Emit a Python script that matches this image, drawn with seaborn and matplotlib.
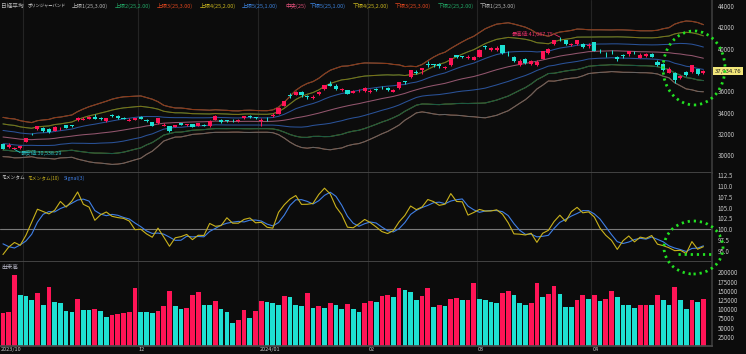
import numpy as np
import pandas as pd
import matplotlib
matplotlib.use("Agg")
import matplotlib.pyplot as plt
import seaborn as sns
from matplotlib.patches import Ellipse
from matplotlib.lines import Line2D

# 表示期間より前の終値（BB25 / モメンタム10 の計算用）
prior_close = [32571.03, 32402.41, 32678.62, 32315.05, 32371.90, 31872.52, 31857.62, 31759.88,
               31237.94, 30526.88, 31075.36, 30994.67, 31746.53, 31936.51, 32494.66, 32315.99,
               31659.03, 32040.29, 32042.25, 31430.62, 31259.36, 30999.55, 31062.35, 31269.92]

# 日足 2023/10/26 - 2024/04/26
open_ = [31010, 30730, 30600, 30650, 31250, 31990, 32450, 32570, 32450, 32300,
         32500, 32800, 32800, 33250, 33330, 33400, 33600, 33480, 33200, 33800,
         33700, 33480, 33220, 33300, 33620, 33330, 33080, 32990, 32730, 32700,
         32680, 33000, 32800, 32900, 32750, 32850, 32700, 33300, 33300, 33250,
         33300, 33200, 33450, 33700, 33550, 33193, 33400, 33700, 33900, 34650,
         35600, 35650, 35900, 35550, 35350, 35700, 36200, 36700, 36500, 36150,
         36100, 35850, 36000, 36000, 35880, 36250, 36420, 36300, 35960, 36300,
         36930, 37300, 37780, 37990, 38600, 38520, 38600, 38150, 38460, 39380,
         39330, 39130, 38930, 39240, 40240, 39880, 39880, 40300, 39710, 39240,
         38480, 39050, 38550, 38500, 39050, 39560, 40430, 40900, 40800, 40300,
         40400, 40430, 40250, 40600, 39880, 39500, 39790, 39240, 39370, 39500,
         39620, 39150, 39300, 39500, 38770, 38600, 37750, 37740, 37210, 37830,
         37830, 38040, 37730]
high = [31040, 31120, 30800, 30900, 31650, 32050, 32750, 32600, 32500, 32700,
        32650, 32850, 32850, 33560, 33600, 33650, 33850, 33550, 33500, 33850,
        33750, 33550, 33500, 33520, 33650, 33400, 33100, 33480, 32990, 32750,
        32850, 33050, 32950, 32950, 33050, 32900, 33250, 33750, 33350, 33300,
        33350, 33350, 33700, 33750, 33600, 33450, 33550, 33990, 34500, 35100,
        35840, 36000, 36000, 35650, 35600, 36000, 36600, 36980, 36650, 36300,
        36150, 36100, 36200, 36350, 36200, 36300, 36450, 36400, 36250, 36900,
        37000, 38000, 37950, 38200, 38850, 38600, 38650, 38400, 39150, 39400,
        39350, 39400, 39300, 39950, 40300, 40150, 40250, 40350, 39800, 39300,
        39000, 39100, 38900, 38900, 39800, 40050, 40850, 41087.75, 40800, 40500,
        40800, 40550, 40500, 40650, 39950, 39700, 39850, 39300, 39500, 39800,
        39800, 39550, 39600, 39600, 38900, 38650, 38250, 37850, 37500, 37900,
        38500, 38100, 38000]
low = [30580, 30680, 30538.29, 30580, 31200, 31850, 32400, 32200, 32100, 32250,
       32400, 32550, 32650, 33200, 33300, 33350, 33350, 33300, 33150, 33600,
       33400, 33350, 33200, 33250, 33400, 33100, 32700, 32950, 32700, 32200,
       32600, 32800, 32750, 32600, 32700, 32700, 32650, 33250, 33050, 33100,
       33150, 33150, 33400, 33450, 33400, 32693, 33200, 33600, 33850, 34600,
       35400, 35600, 35500, 35300, 35300, 35650, 36150, 36450, 36150, 36050,
       35700, 35800, 35950, 35950, 35800, 36050, 36200, 36050, 35900, 36200,
       36700, 37250, 37600, 37650, 38300, 38300, 38200, 38100, 38400, 39100,
       39100, 39000, 38900, 39200, 39950, 39800, 39800, 39500, 39300, 38700,
       38400, 38600, 38500, 38400, 39000, 39500, 40300, 40700, 40300, 40200,
       40300, 40100, 40100, 39750, 39600, 39250, 39500, 38800, 39100, 39300,
       39500, 39100, 39250, 39200, 38400, 37900, 37700, 36733, 37100, 37400,
       37750, 37500, 37600]
close = [30601.78, 30991.69, 30696.96, 30858.85, 31601.65, 31949.89, 32708.48, 32271.82, 32166.48, 32646.46,
         32568.11, 32585.11, 32695.93, 33519.70, 33424.41, 33585.20, 33388.03, 33354.14, 33451.83, 33625.53,
         33447.67, 33408.39, 33321.22, 33486.89, 33431.51, 33231.27, 32775.82, 33445.90, 32858.31, 32307.86,
         32791.80, 32843.04, 32926.35, 32686.25, 32970.55, 32758.98, 33219.39, 33675.94, 33140.47, 33169.05,
         33254.03, 33305.85, 33681.24, 33539.62, 33464.17, 33288.29, 33377.42, 33763.18, 34441.72, 35049.86,
         35577.11, 35901.79, 35619.18, 35477.75, 35466.17, 35963.27, 36546.95, 36517.57, 36226.48, 36236.47,
         35751.07, 36026.94, 36065.86, 36286.71, 36011.46, 36158.02, 36354.16, 36160.66, 36119.92, 36863.28,
         36897.42, 37963.97, 37703.32, 38157.94, 38487.24, 38470.38, 38363.61, 38262.16, 39098.68, 39233.71,
         39239.52, 39208.03, 39166.19, 39910.82, 40109.23, 40097.63, 40090.78, 39598.71, 39688.94, 38820.49,
         38797.51, 38695.97, 38807.38, 38707.64, 39740.44, 40003.60, 40815.66, 40888.43, 40414.12, 40398.03,
         40762.73, 40168.07, 40369.44, 39803.09, 39838.91, 39451.85, 39773.13, 38992.08, 39347.04, 39773.14,
         39581.81, 39442.63, 39523.55, 39232.80, 38471.20, 37961.80, 38079.70, 37068.35, 37438.61, 37552.16,
         38460.08, 37628.48, 37934.76]
volume = [90600, 93300, 193000, 138600, 135000, 126000, 145000, 111000, 161000, 119600,
          116000, 94200, 92400, 127700, 97800, 96900, 99700, 95100, 78800, 84300,
          86100, 88800, 93300, 157600, 92400, 91500, 89700, 96000, 108700, 149500,
          109600, 101500, 104200, 138600, 145900, 111400, 110500, 122300, 99700, 93300,
          62500, 71600, 97800, 77000, 94200, 122300, 120500, 116000, 110500, 135000,
          134100, 110500, 107800, 145000, 104200, 109600, 104200, 116000, 112300, 99700,
          114200, 99700, 92400, 116000, 123200, 120500, 135000, 139500, 132300, 156700,
          152200, 146800, 125000, 135000, 156700, 106000, 112300, 108700, 127700, 130500,
          124100, 125000, 172100, 128700, 125000, 120500, 117800, 143100, 148600, 137700,
          117800, 110500, 116000, 172100, 134100, 140400, 163100, 141300, 106500, 105500,
          125900, 139500, 126800, 138600, 121400, 127700, 150400, 134100, 112300, 110500,
          102400, 111000, 111800, 111200, 137700, 125900, 110500, 160400, 125000, 101500,
          125900, 119600, 128700]

month_lines = [3.5, 23.5, 44.5, 63.5, 82.5, 102.5]
month_labels = ['12', '2024/01', '02', '03', '04']
price_ticks = [30000, 32000, 34000, 36000, 38000, 40000, 42000, 44000]
mom_ticks = [95.0, 97.5, 100.0, 102.5, 105.0, 107.5, 110.0, 112.5]
vol_ticks = [25000, 50000, 75000, 100000, 125000, 150000, 175000, 200000]

# インジケーター
n0 = len(prior_close)
cs = pd.Series(prior_close + close)
mid = cs.rolling(25).mean().values[n0:]
sd = cs.rolling(25).std(ddof=0).values[n0:]
mom = (cs / cs.shift(10) * 100)
sig = mom.rolling(3).mean().values[n0:]
mom = mom.values[n0:]

o = np.array(open_); c = np.array(close); h = np.array(high); l = np.array(low)
v = np.array(volume)
x = np.arange(len(c))

BG = '#0c0c0c'
RED = '#ff1456'
CYAN = '#1ee0d2'
TXT = '#c8c8c8'
GRAY_L = '#656565'; GREEN_L = '#1a5a44'; ORANGE_L = '#8e3814'
YELLOW_L = '#7d7216'; BLUE_L = '#2a5298'; PINK_L = '#93566e'

sns.set_theme(style='dark')
plt.rcParams['font.family'] = ['Noto Sans CJK JP', 'DejaVu Sans']
plt.rcParams['axes.unicode_minus'] = False

W, H = 746, 354
fig = plt.figure(figsize=(W / 100, H / 100), dpi=100, facecolor=BG)


def panel(top, bottom):
    return [0, 1 - bottom / H, 712 / W, (bottom - top) / H]


ax1 = fig.add_axes(panel(0, 173))
ax2 = fig.add_axes(panel(173, 262), sharex=ax1)
ax3 = fig.add_axes(panel(262, 346), sharex=ax1)

for ax in (ax1, ax2, ax3):
    ax.set_facecolor(BG)
    ax.grid(False)
    for s in ax.spines.values():
        s.set_visible(False)
    ax.spines['right'].set_visible(True)
    ax.spines['right'].set_color('#3a3a3a')
    ax.spines['bottom'].set_visible(True)
    ax.spines['bottom'].set_color('#4a4a4a')
    ax.yaxis.tick_right()
    ax.tick_params(axis='y', colors=TXT, labelsize=4.4, length=0, pad=4)
    ax.tick_params(axis='x', length=0, labelbottom=False)
    for m in month_lines:
        ax.axvline(m, color='#242424', lw=0.8, zorder=0)
    ax.set_xlim(-0.52, 123.5)

# ローソク足 + ボリンジャーバンド
bands = [(3, GRAY_L), (2, GREEN_L), (3, ORANGE_L), (2, YELLOW_L), (1, BLUE_L), (0, PINK_L),
         (-1, BLUE_L), (-2, YELLOW_L), (-3, ORANGE_L), (-2, GREEN_L), (-3, GRAY_L)]
for k, col in bands:
    sns.lineplot(x=x, y=mid + k * sd, ax=ax1, color=col, lw=0.75, zorder=2)

ccol = np.where(c >= o, RED, CYAN)
ax1.vlines(x, l, h, colors=ccol, lw=0.75, zorder=3)
ax1.bar(x, np.maximum(np.abs(c - o), 25), bottom=np.minimum(o, c), width=0.72,
        color=ccol, linewidth=0, zorder=4)
ax1.set_ylim(28320, 44565)
ax1.set_yticks(price_ticks)
# 38000 は現在値ボックスに隠れる
ax1.set_yticklabels(['' if t == 38000 else str(t) for t in price_ticks])
ax1.set_ylabel('')

# 最高値 / 最安値
ih = int(np.argmax(h)); il = int(np.argmin(l))
ax1.plot([ih - 0.9, ih], [41330, h[ih]], color='#e8306a', lw=0.6, zorder=5)
ax1.text(ih - 1.2, 41370, f'最高値:{h[ih]:,.2f}', color='#e8306a', fontsize=3.9,
         ha='right', va='center', zorder=5)
ax1.plot([il, il + 1.0], [l[il], 30230], color='#2cc4c4', lw=0.6, zorder=5)
ax1.text(il + 1.0, 30200, f'最安値:{l[il]:,.2f}', color='#2cc4c4', fontsize=3.9,
         ha='left', va='center', zorder=5)

# モメンタム
ax2.axhline(100, color='#7a7a7a', lw=0.8, zorder=1)
sns.lineplot(x=x, y=mom, ax=ax2, color='#c9b21c', lw=0.8, zorder=3)
sns.lineplot(x=x, y=sig, ax=ax2, color='#3f7fe6', lw=0.8, zorder=2)
ax2.set_ylim(92.45, 113.0)
ax2.set_yticks(mom_ticks)
ax2.set_yticklabels([f'{t:.1f}' for t in mom_ticks])
ax2.set_ylabel('')

# 出来高（前日比で色分け）
vcol = [RED] + [RED if v[i] >= v[i - 1] else CYAN for i in range(1, len(v))]
ax3.bar(x, v, width=0.82, color=vcol, linewidth=0, zorder=2)
ax3.set_ylim(0, 228000)
ax3.set_yticks(vol_ticks)
ax3.set_yticklabels([str(t) for t in vol_ticks])
ax3.set_ylabel('')

# 日付ラベル
ax3.text(-0.35, -0.045, '2023/10', transform=ax3.get_xaxis_transform(), color=TXT,
         fontsize=4.0, ha='left', va='center')
for m, lab in zip(month_lines[1:], month_labels):
    ax3.text(m + 0.15, -0.045, lab, transform=ax3.get_xaxis_transform(), color=TXT,
             fontsize=4.0, ha='left', va='center')


def ftext(px, py, s, color, size=4.2, **kw):
    fig.text(px / W, 1 - py / H, s, color=color, fontsize=size, ha='left', va='center', **kw)


header = [('上限1(25,3.00)', 72, '#b4b4b4'), ('上限2(25,2.00)', 115, '#22a866'),
          ('上限3(25,3.00)', 157, '#e0461e'), ('上限4(25,2.00)', 200, '#c8b41e'),
          ('上限5(25,1.00)', 242, '#3c82dc'), ('中央(25)', 285, '#e0507a'),
          ('下限5(25,1.00)', 310, '#3c82dc'), ('下限4(25,2.00)', 353, '#c8b41e'),
          ('下限3(25,3.00)', 395, '#e0461e'), ('下限2(25,2.00)', 438, '#22a866'),
          ('下限1(25,3.00)', 480, '#b4b4b4')]
ftext(1, 6, '日経平均', '#bdbdbd', size=4.1)
ftext(28, 6, 'ボリンジャーバンド', '#e6e6e6', size=3.1)
for s, px, col in header:
    ftext(px, 6, s, col, size=4.0)
ftext(1, 178, 'モメンタム', '#d8d8d8', size=3.4)
ftext(27, 178, 'モメンタム(10)', '#c9b21c', size=3.4)
ftext(64, 178, 'Signal(3)', '#3f7fe6', size=3.7)
ftext(1, 267, '出来高', '#b8b8c8', size=4.1)

# 現在値ボックス
ftext(715, 71, f'{c[-1]:,.2f}', '#1a1a1a', size=4.3,
      bbox=dict(facecolor='#f2e77a', edgecolor='none', pad=1.2))

# 緑の点線マーク
for cx, cy, ew, eh in [(694, 68, 62, 74), (693.5, 247.5, 59, 53)]:
    fig.add_artist(Ellipse((cx / W, 1 - cy / H), ew / W, eh / H, transform=fig.transFigure,
                           fill=False, edgecolor='#22e022', lw=2.0, linestyle=(0, (0.8, 1.4)),
                           zorder=10))
fig.add_artist(Line2D([678 / W, 712 / W], [1 - 254 / H, 1 - 254 / H], transform=fig.transFigure,
                      color='#22e022', lw=2.0, linestyle=(0, (0.8, 1.4)), zorder=10))

fig.savefig('out.png', dpi=100, facecolor=BG)
